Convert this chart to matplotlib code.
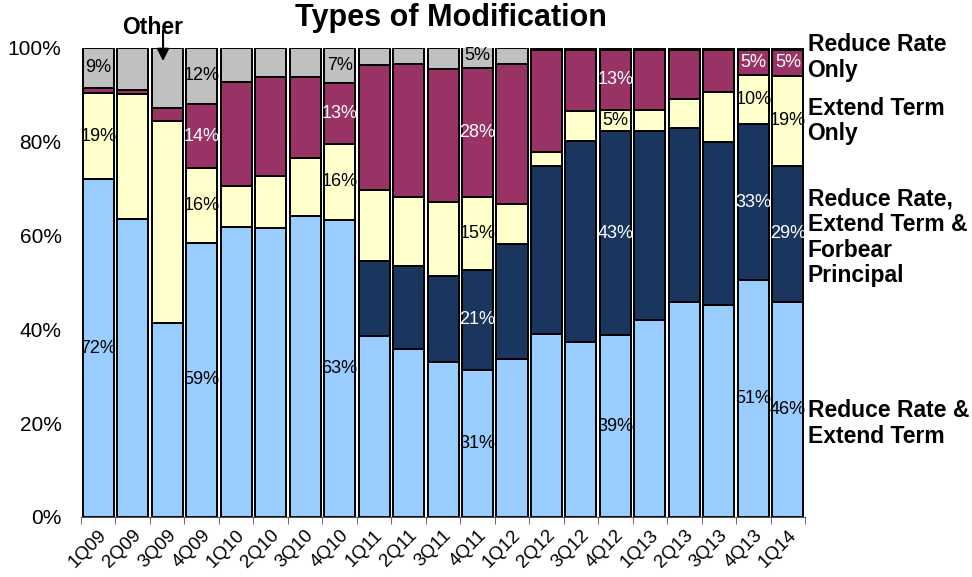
import numpy as np
import matplotlib
matplotlib.use('Agg')
import matplotlib.pyplot as plt

plt.rcParams['font.family'] = ['Liberation Sans', 'DejaVu Sans']

quarters = ['1Q09', '2Q09', '3Q09', '4Q09', '1Q10', '2Q10', '3Q10', '4Q10',
            '1Q11', '2Q11', '3Q11', '4Q11', '1Q12', '2Q12', '3Q12', '4Q12',
            '1Q13', '2Q13', '3Q13', '4Q13', '1Q14']

# shares in percent, bottom to top
rate_and_term = [72.0, 63.5, 41.3, 58.5, 61.8, 61.6, 64.2, 63.4, 38.6, 35.8, 33.0,
                 31.3, 33.7, 39.0, 37.3, 38.7, 42.0, 45.9, 45.2, 50.5, 45.8]
rate_term_forbear = [0, 0, 0, 0, 0, 0, 0, 0, 16.0, 17.8, 18.4,
                     21.4, 24.4, 35.9, 42.9, 43.5, 40.3, 37.0, 34.7, 33.2, 29.1]
term_only = [18.4, 26.7, 43.1, 15.8, 8.8, 11.1, 12.4, 16.1, 15.0, 14.7, 15.8,
             15.5, 8.6, 3.0, 6.4, 4.6, 4.5, 6.2, 10.7, 10.5, 19.1]
rate_only = [1.1, 0.8, 2.7, 13.8, 22.1, 21.1, 17.1, 13.0, 26.8, 28.3, 28.2,
             27.6, 29.9, 21.7, 13.0, 12.8, 12.8, 10.5, 9.0, 5.4, 5.6]
other = [8.5, 9.0, 12.9, 11.9, 7.3, 6.2, 6.3, 7.5, 3.6, 3.4, 4.6,
         5.2, 3.4, 0.4, 0.4, 0.4, 0.4, 0.4, 0.4, 0.4, 0.4]

# which segments carry a printed label: (quarter index, series index, text)
labels = [(0, 0, '72%'), (0, 2, '19%'), (0, 4, '9%'),
          (3, 0, '59%'), (3, 2, '16%'), (3, 3, '14%'), (3, 4, '12%'),
          (7, 0, '63%'), (7, 2, '16%'), (7, 3, '13%'), (7, 4, '7%'),
          (11, 0, '31%'), (11, 1, '21%'), (11, 2, '15%'), (11, 3, '28%'), (11, 4, '5%'),
          (15, 0, '39%'), (15, 1, '43%'), (15, 2, '5%'), (15, 3, '13%'),
          (19, 0, '51%'), (19, 1, '33%'), (19, 2, '10%'), (19, 3, '5%'),
          (20, 0, '46%'), (20, 1, '29%'), (20, 2, '19%'), (20, 3, '5%')]

series = [rate_and_term, rate_term_forbear, term_only, rate_only, other]
colors = ['#99CCFF', '#1B365E', '#FFFFCC', '#993366', '#C0C0C0']
text_colors = ['black', 'white', 'black', 'white', 'black']
names = ['Reduce Rate &\nExtend Term',
         'Reduce Rate,\nExtend Term &\nForbear\nPrincipal',
         'Extend Term\nOnly',
         'Reduce Rate\nOnly']

fig = plt.figure(figsize=(9.72, 5.77), dpi=100)
ax = fig.add_axes([0.0833, 0.104, 0.745, 0.813])

x = np.arange(len(quarters))
bottom = np.zeros(len(quarters))
bottoms = []
for vals, c in zip(series, colors):
    vals = np.array(vals, dtype=float)
    ax.bar(x, vals, 0.9, bottom=bottom, color=c, edgecolor='black', linewidth=1.4)
    bottoms.append(bottom.copy())
    bottom += vals

for qi, si, txt in labels:
    yc = bottoms[si][qi] + series[si][qi] / 2
    ax.text(x[qi], yc, txt, ha='center', va='center', fontsize=13,
            color=text_colors[si])

ax.set_xlim(-0.5, len(quarters) - 0.5)
ax.set_ylim(0, 100)
ax.set_yticks(range(0, 101, 20))
ax.set_yticklabels([f'{v}%' for v in range(0, 101, 20)], fontsize=15)
ax.tick_params(axis='y', length=0, pad=14)
ax.set_xticks(x)
ax.set_xticklabels(quarters, rotation=45, ha='right', rotation_mode='anchor',
                   fontsize=13.5)
ax.tick_params(axis='x', length=0, pad=7)
ax.set_xticks(np.arange(-0.5, len(quarters)), minor=True)
ax.tick_params(axis='x', which='minor', length=5, color='#555555')
for s in ['top', 'right', 'left']:
    ax.spines[s].set_visible(False)
ax.spines['bottom'].set_color('#555555')

fig.text(0.464, 0.969, 'Types of Modification', fontsize=22, fontweight='bold',
         ha='center', va='center')

# right-hand series names, placed next to the last bar
for name, yv in zip(names, [19.9, 59.6, 84.4, 97.9]):
    ax.text(len(quarters) - 0.5 + 0.07, yv, name, fontsize=16.5, fontweight='bold',
            ha='left', va='center', linespacing=1.15)

ax.text(1.59, 104.3, 'Other', ha='center', va='center', fontsize=16.5,
        fontweight='bold', clip_on=False)
ax.annotate('', xy=(1.88, 97.2), xytext=(1.88, 103.6), annotation_clip=False,
            arrowprops=dict(arrowstyle='-|>', color='black', lw=1.5,
                            shrinkA=0, shrinkB=0, mutation_scale=18))

fig.savefig('out.png', dpi=100)
